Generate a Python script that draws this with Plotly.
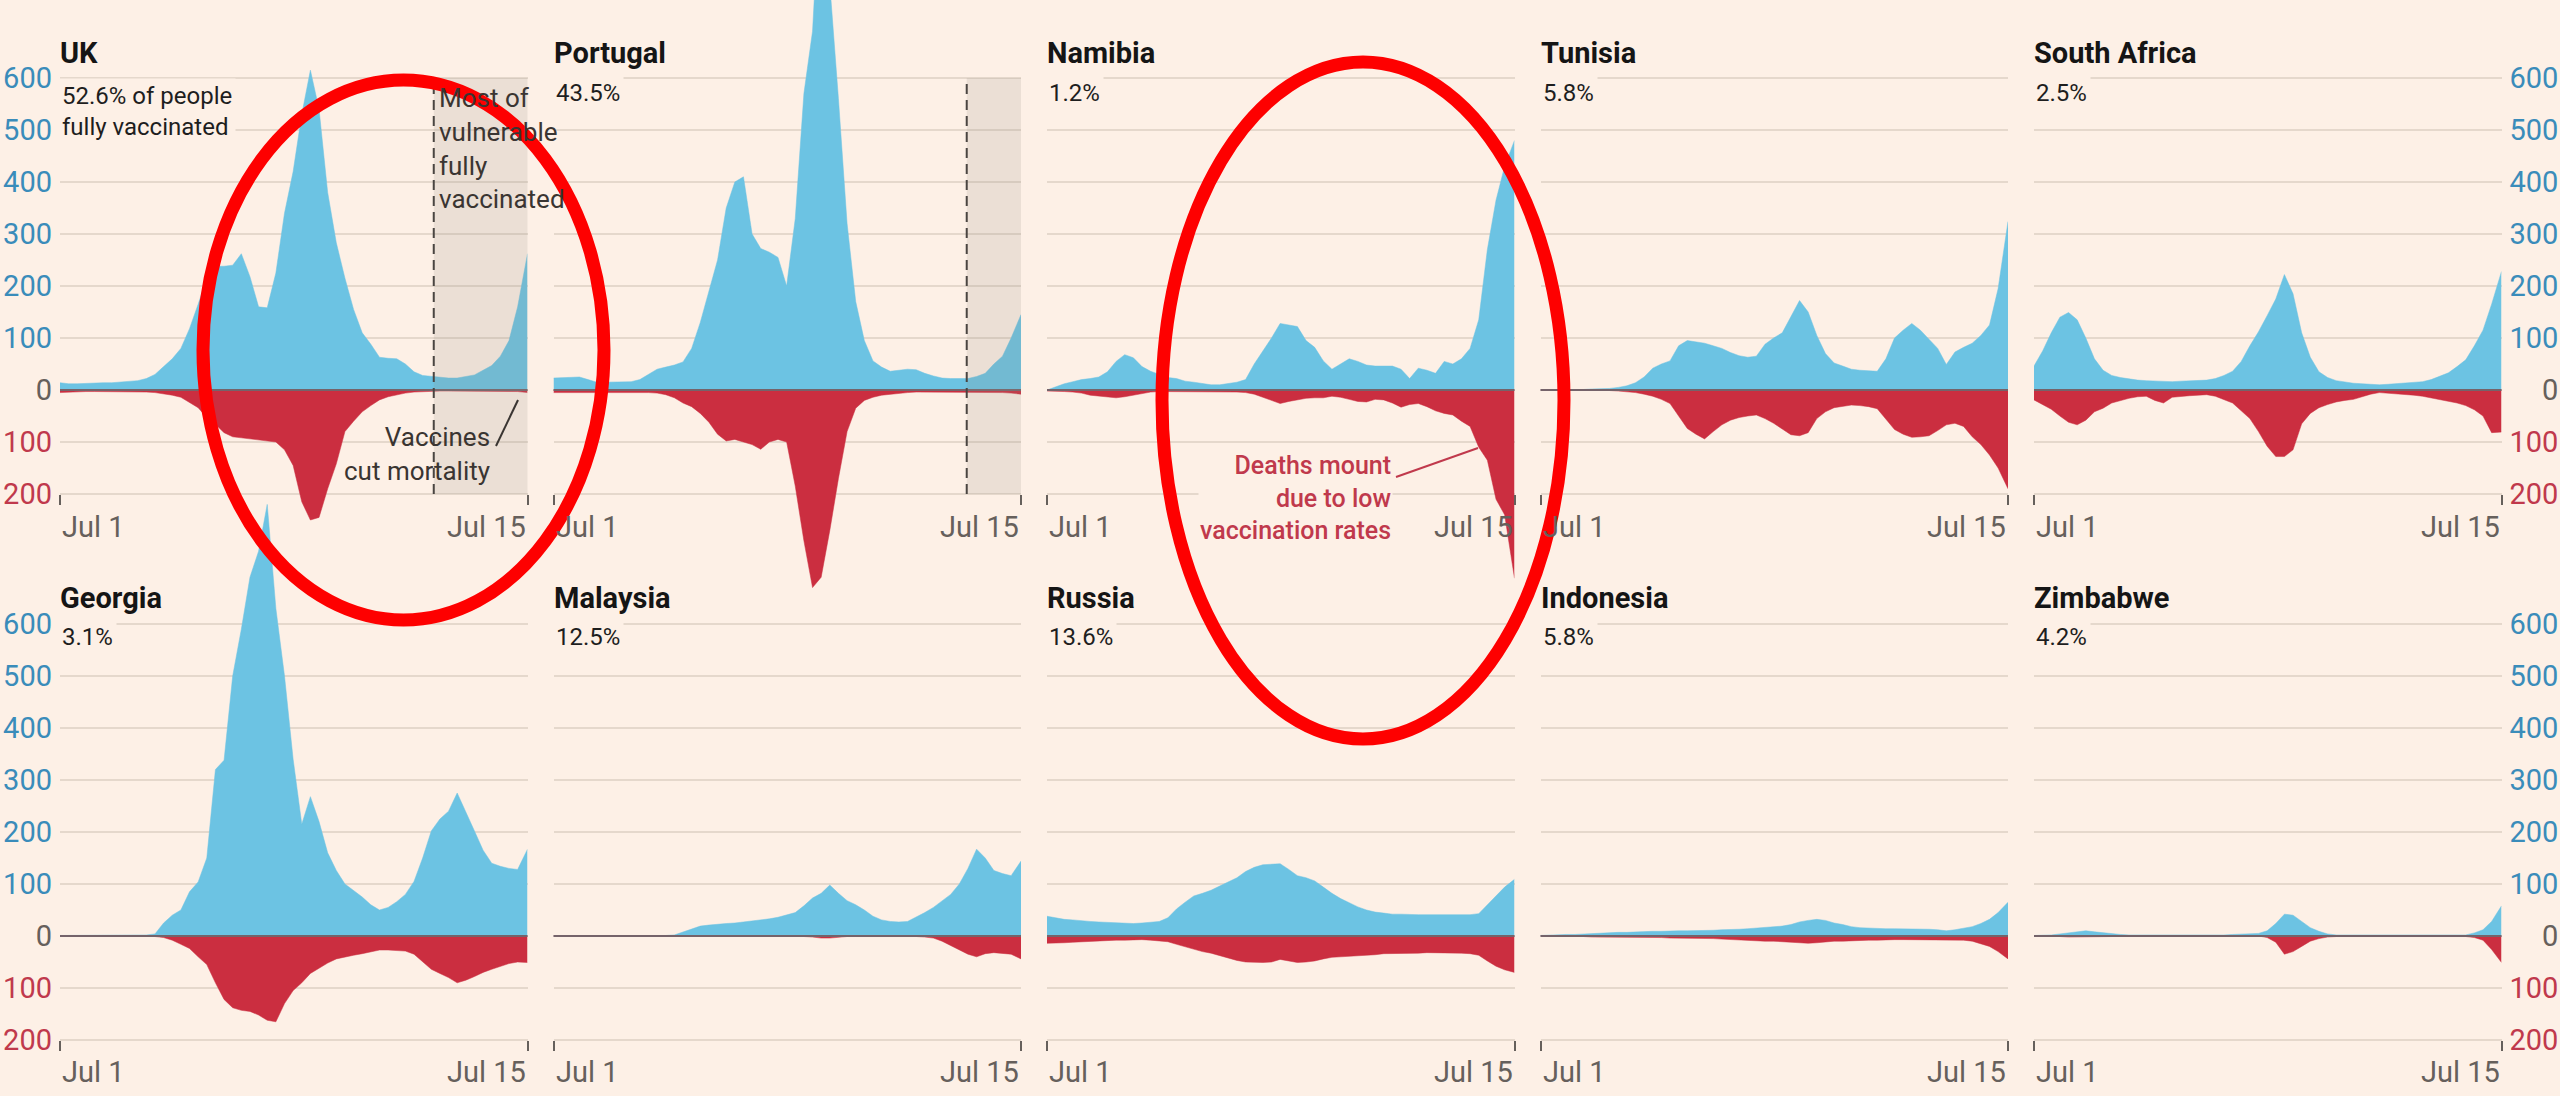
import pandas as pd
import plotly.graph_objects as go

# ---------------- data (weekly readings, Jul 1 2020 -> Jul 15 2021) ----------------
dates = list(pd.date_range("2020-07-01", periods=54, freq="7D")) + [pd.Timestamp("2021-07-15")]

countries = ["UK", "Portugal", "Namibia", "Tunisia", "South Africa",
             "Georgia", "Malaysia", "Russia", "Indonesia", "Zimbabwe"]
vaccinated = ["52.6% of people<br>fully vaccinated", "43.5%", "1.2%", "5.8%", "2.5%",
              "3.1%", "12.5%", "13.6%", "5.8%", "4.2%"]

cases_uk = [14, 12, 12, 13, 13, 14, 14, 15, 16, 18, 22, 30, 45, 60, 80, 118, 165, 215, 238, 238,
            240, 262, 218, 160, 158, 225, 340, 420, 530, 615, 540, 380, 283, 215, 155, 110, 88, 63,
            61, 60, 50, 35, 28, 26, 24, 23, 23, 26, 29, 38, 47, 65, 95, 160, 262]
deaths_uk = [5, 4, 3, 3, 3, 3, 3, 3, 3, 3, 4, 5, 7, 10, 14, 24, 34, 53, 66, 82,
             90, 92, 94, 96, 97, 100, 115, 145, 215, 250, 245, 190, 142, 80, 60, 42, 30, 19,
             13, 9, 6, 4, 3, 2, 2, 2, 2, 2, 2, 2, 2, 2, 3, 3, 5]

cases_pt = [23, 24, 25, 25, 20, 15, 15, 15, 16, 16, 20, 30, 40, 44, 48, 54, 80, 130, 190, 250,
            350, 400, 410, 300, 272, 265, 255, 200, 330, 570, 690, 1000, 780, 560, 320, 170, 95, 56,
            44, 36, 38, 40, 39, 32, 27, 23, 22, 22, 22, 26, 32, 50, 65, 100, 145]
deaths_pt = [5, 5, 5, 5, 5, 4, 4, 4, 4, 4, 5, 5, 6, 9, 15, 25, 32, 45, 62, 85,
             98, 95, 100, 105, 114, 100, 95, 100, 185, 290, 380, 360, 270, 170, 80, 35, 20, 14,
             10, 8, 6, 5, 4, 4, 4, 4, 4, 4, 4, 4, 4, 5, 5, 6, 8]

cases_na = [0, 6, 12, 16, 20, 22, 25, 35, 55, 68, 62, 45, 36, 30, 24, 22, 17, 15, 12, 10,
            10, 12, 15, 20, 50, 75, 100, 128, 125, 122, 95, 82, 56, 40, 50, 60, 55, 48,
            46, 46, 46, 40, 22, 42, 38, 32, 55, 50, 60, 80, 135, 270, 365, 430, 480]
deaths_na = [2, 2, 3, 4, 6, 10, 12, 14, 15, 13, 10, 6, 4, 3, 3, 3, 3, 3, 3, 3,
             3, 3, 4, 5, 8, 14, 20, 26, 22, 19, 16, 15, 15, 12, 14, 18, 22, 23,
             18, 19, 25, 33, 28, 26, 32, 40, 45, 48, 60, 70, 110, 135, 210, 240, 362]

cases_tn = [0, 0, 0, 0, 1, 1, 2, 2, 3, 5, 8, 14, 25, 42, 50, 56, 85, 95, 93, 90,
            85, 80, 72, 66, 63, 65, 88, 100, 110, 140, 172, 150, 105, 70, 52, 46, 40, 38,
            37, 36, 60, 100, 115, 128, 115, 98, 80, 49, 73, 82, 90, 105, 125, 195, 324]
deaths_tn = [0, 0, 0, 0, 0, 0, 0, 0, 1, 2, 3, 5, 8, 12, 18, 26, 50, 74, 85, 94,
             80, 67, 58, 53, 50, 48, 55, 64, 75, 86, 88, 82, 55, 42, 34, 31, 29, 30,
             32, 36, 55, 76, 85, 91, 90, 88, 78, 67, 64, 70, 90, 105, 125, 150, 190]

cases_za = [46, 75, 110, 140, 149, 135, 100, 60, 38, 28, 24, 21, 19, 18, 17, 17, 16, 17, 18, 18,
            19, 22, 28, 36, 55, 85, 112, 143, 175, 222, 185, 110, 63, 35, 24, 18, 15, 13,
            12, 11, 10, 11, 12, 13, 14, 16, 20, 26, 33, 45, 58, 85, 115, 165, 228]
deaths_za = [19, 28, 37, 50, 62, 67, 58, 42, 35, 25, 20, 16, 13, 12, 20, 25, 14, 12, 11, 10,
             9, 12, 18, 25, 40, 55, 80, 108, 128, 128, 115, 65, 45, 34, 28, 23, 20, 18,
             13, 8, 5, 6, 7, 9, 10, 12, 15, 18, 22, 25, 30, 38, 50, 82, 81]

cases_ge = [1, 1, 1, 1, 1, 1, 1, 1, 1, 2, 2, 4, 25, 40, 50, 85, 104, 150, 320, 338,
            500, 590, 690, 740, 830, 630, 500, 340, 215, 268, 220, 160, 126, 100, 88, 75, 60, 50,
            55, 66, 80, 105, 150, 202, 225, 240, 275, 240, 202, 165, 140, 134, 130, 128, 167]
deaths_ge = [0, 0, 0, 0, 0, 0, 0, 0, 0, 0, 0, 1, 3, 8, 16, 24, 40, 55, 90, 122,
             138, 143, 145, 152, 162, 165, 130, 105, 90, 72, 62, 52, 44, 40, 37, 34, 30, 27,
             27, 28, 29, 35, 50, 64, 72, 80, 90, 85, 78, 70, 64, 58, 53, 50, 51]

cases_my = [0, 0, 0, 0, 0, 0, 0, 0, 0, 0, 0, 0, 0, 1, 2, 8, 14, 19, 21, 23,
            24, 25, 27, 28, 30, 33, 36, 40, 45, 58, 73, 82, 98, 82, 68, 60, 50, 38,
            31, 28, 27, 28, 36, 45, 55, 67, 80, 100, 130, 167, 150, 126, 120, 116, 144]
deaths_my = [0, 0, 0, 0, 0, 0, 0, 0, 0, 0, 0, 0, 0, 0, 0, 0, 0, 0, 0, 0,
             0, 0, 0, 0, 0, 0, 0, 0, 0, 1, 2, 4, 4, 2, 1, 1, 1, 0,
             0, 0, 0, 0, 1, 2, 4, 10, 18, 26, 35, 40, 34, 32, 33, 35, 44]

cases_ru = [38, 35, 32, 31, 29, 28, 27, 26, 25, 24, 24, 25, 26, 28, 35, 52, 65, 77, 82, 88,
            96, 104, 112, 124, 132, 137, 138, 139, 128, 116, 112, 106, 94, 82, 72, 64, 56, 50,
            46, 44, 42, 42, 41, 41, 41, 41, 41, 41, 41, 41, 43, 60, 78, 94, 109]
deaths_ru = [14, 14, 13, 12, 11, 10, 9, 9, 8, 8, 7, 7, 8, 9, 11, 16, 21, 26, 30, 33,
             38, 43, 47, 50, 51, 51, 50, 45, 48, 51, 50, 48, 44, 41, 40, 39, 39, 38,
             36, 34, 34, 34, 33, 33, 32, 32, 32, 33, 33, 34, 37, 48, 58, 65, 70]

cases_id = [1, 2, 2, 3, 3, 4, 5, 5, 6, 7, 7, 8, 8, 9, 9, 10, 10, 10, 10, 11,
            11, 12, 12, 13, 14, 15, 16, 17, 19, 22, 27, 30, 32, 30, 25, 22, 18, 16,
            15, 14, 14, 14, 14, 14, 14, 13, 12, 10, 12, 15, 18, 24, 32, 45, 65]
deaths_id = [0, 0, 1, 1, 1, 1, 2, 2, 2, 3, 3, 3, 3, 3, 3, 4, 4, 4, 4, 5,
             5, 6, 7, 7, 8, 9, 10, 10, 11, 13, 14, 14, 13, 11, 10, 10, 9, 9,
             8, 8, 7, 7, 7, 7, 7, 7, 7, 7, 7, 8, 10, 15, 20, 30, 44]

cases_zw = [1, 1, 2, 4, 6, 8, 10, 8, 6, 5, 3, 2, 2, 1, 1, 1, 1, 1, 1, 1,
            1, 1, 2, 3, 4, 5, 5, 10, 24, 42, 40, 28, 16, 9, 4, 2, 2, 1,
            1, 1, 1, 1, 1, 1, 1, 1, 1, 1, 1, 1, 2, 6, 12, 28, 58]
deaths_zw = [0, 0, 1, 1, 2, 2, 2, 2, 1, 1, 0, 0, 0, 0, 0, 0, 0, 0, 0, 0,
             0, 0, 0, 0, 0, 0, 0, 3, 12, 35, 30, 20, 10, 5, 2, 1, 1, 0,
             0, 0, 0, 0, 0, 0, 0, 0, 0, 0, 0, 1, 1, 3, 8, 26, 51]

cases = [cases_uk, cases_pt, cases_na, cases_tn, cases_za,
         cases_ge, cases_my, cases_ru, cases_id, cases_zw]
deaths = [deaths_uk, deaths_pt, deaths_na, deaths_tn, deaths_za,
          deaths_ge, deaths_my, deaths_ru, deaths_id, deaths_zw]

tick_vals = [-200, -100, 0, 100, 200, 300, 400, 500, 600]
tick_nums = ["200", "100", "0", "100", "200", "300", "400", "500", "600"]

# ---------------- styling / geometry ----------------
W, H = 2560, 1096
BG = "#fdf0e6"
BLUE = "#6cc3e3"
RED = "#cb2e40"
BLUE_TXT = "#3a8cba"
RED_TXT = "#c0394c"
GREY_TXT = "#66605c"
GRID = "#e5d8cc"
FONT = "Roboto"

X0 = pd.Timestamp("2020-07-01")
X1 = pd.Timestamp("2021-07-15")

PANEL_L = [60, 553.5, 1047, 1540.5, 2034]
PANEL_W = 467.5
SCALE = 0.52  # px per unit
ROWS = [dict(zero=390, top=0, bot=620, title=53, sub=93, jul=527),
        dict(zero=936, top=440, bot=1096, title=598, sub=637, jul=1072)]


def py(p):
    return 1 - p / H


def px(p):
    return p / W


def ax_id(n):
    return ("x", "y") if n == 1 else (f"x{n}", f"y{n}")


fig = go.Figure()
layout = dict(
    width=W, height=H, paper_bgcolor=BG, plot_bgcolor="rgba(0,0,0,0)",
    margin=dict(l=0, r=0, t=0, b=0), showlegend=False,
    font=dict(family=FONT, color=GREY_TXT),
)
annotations = []
shapes = []

for i, name in enumerate(countries):
    r, c = divmod(i, 5)
    row = ROWS[r]
    n = i + 1
    xa, ya = ax_id(n)
    sfx = "" if n == 1 else str(n)
    L = PANEL_L[c]
    R = L + PANEL_W

    fig.add_trace(go.Scatter(x=dates, y=cases[i], mode="lines", fill="tozeroy",
                             fillcolor=BLUE, line=dict(color=BLUE, width=0.5),
                             xaxis=xa, yaxis=ya, hoverinfo="skip"))
    fig.add_trace(go.Scatter(x=dates, y=[-v for v in deaths[i]], mode="lines", fill="tozeroy",
                             fillcolor=RED, line=dict(color=RED, width=0.5),
                             xaxis=xa, yaxis=ya, hoverinfo="skip"))

    rng = [-(row["bot"] - row["zero"]) / SCALE, (row["zero"] - row["top"]) / SCALE]
    xpos = py(row["zero"] + 200 * SCALE)

    layout[f"xaxis{sfx}"] = dict(
        domain=[px(L), px(R)], range=[X0, X1], anchor="free", position=xpos,
        showgrid=False, zeroline=False, showline=False,
        tickvals=[X0, X1], ticks="outside", ticklen=10, tickwidth=2,
        tickcolor=GREY_TXT, showticklabels=False, fixedrange=True,
    )

    yax = dict(
        domain=[py(row["bot"]), py(row["top"])], range=rng, anchor=xa,
        showgrid=True, gridcolor=GRID, gridwidth=2, zeroline=False, showline=False,
        tickvals=tick_vals, ticks="", fixedrange=True,
        tickfont=dict(family=FONT, size=29, color=GREY_TXT),
    )
    col_txt = [RED_TXT, RED_TXT, GREY_TXT] + [BLUE_TXT] * 6
    if c == 0:
        yax.update(side="left", showticklabels=True, ticklabelstandoff=7,
                   ticktext=[f"<span style='color:{cl}'>{t}</span>"
                             for cl, t in zip(col_txt, tick_nums)])
    elif c == 4:
        yax.update(side="right", showticklabels=True, ticklabelstandoff=7,
                   ticktext=[f"<span style='color:{cl}'>{t.rjust(3, chr(0x2007))}</span>"
                             for cl, t in zip(col_txt, tick_nums)])
    else:
        yax.update(showticklabels=False)
    layout[f"yaxis{sfx}"] = yax

    # zero baseline
    shapes.append(dict(type="line", xref=f"{xa} domain", yref=ya, x0=0, x1=1, y0=0, y1=0,
                       line=dict(color="#75636a", width=2), layer="above"))

    # titles
    annotations.append(dict(text=f"<b>{name}</b>", xref="paper", yref="paper",
                            x=px(L - 2), y=py(row["title"]), xanchor="left", yanchor="middle",
                            showarrow=False, font=dict(family=FONT, size=29, color="#151515")))
    sub_y = row["sub"] + (18 if "<br>" in vaccinated[i] else 0)
    annotations.append(dict(text=vaccinated[i], xref="paper", yref="paper",
                            x=px(L - 2), y=py(sub_y), xanchor="left", yanchor="middle",
                            align="left", showarrow=False, bgcolor=BG, borderpad=3,
                            font=dict(family=FONT, size=24, color="#1e1e1e")))
    # date labels
    annotations.append(dict(text="Jul 1", xref=xa, yref="paper", x=X0, y=py(row["jul"]),
                            xanchor="left", yanchor="middle", showarrow=False,
                            font=dict(family=FONT, size=29, color=GREY_TXT)))
    annotations.append(dict(text="Jul 15", xref=xa, yref="paper", x=X1, y=py(row["jul"]),
                            xanchor="right", yanchor="middle", showarrow=False,
                            font=dict(family=FONT, size=29, color=GREY_TXT)))

# shaded "most of vulnerable fully vaccinated" periods (UK, Portugal)
for xa, ya, start in [("x", "y", "2021-04-30"), ("x2", "y2", "2021-06-01")]:
    shapes.append(dict(type="rect", xref=xa, yref=ya, x0=start, x1="2021-07-16", y0=-200, y1=600,
                       fillcolor="rgba(150,140,130,0.17)", line=dict(width=0), layer="above"))
    shapes.append(dict(type="line", xref=xa, yref=ya, x0=start, x1=start, y0=-200, y1=600,
                       line=dict(color="#4a4541", width=2, dash="10px,6px"), layer="above"))

annotations.append(dict(text="Most of<br>vulnerable<br>fully<br>vaccinated", xref="paper", yref="paper",
                        x=px(437), y=py(148), xanchor="left", yanchor="middle", align="left",
                        showarrow=False, font=dict(family=FONT, size=26, color="#3a3532")))
annotations.append(dict(text="Vaccines<br>cut mortality", xref="paper", yref="paper",
                        x=px(492), y=py(454), xanchor="right", yanchor="middle", align="right",
                        showarrow=False, font=dict(family=FONT, size=26, color="#3a3532")))
shapes.append(dict(type="line", xref="paper", yref="paper", x0=px(496), y0=py(446),
                   x1=px(518), y1=py(400), line=dict(color="#3a3532", width=2), layer="above"))

annotations.append(dict(text="Deaths mount<br>due to low<br>vaccination rates", xref="paper", yref="paper",
                        x=px(1393), y=py(498), xanchor="right", yanchor="middle", align="right",
                        showarrow=False, bgcolor=BG, borderpad=1,
                        font=dict(family=FONT, size=25, color=RED_TXT, weight=500)))
shapes.append(dict(type="line", xref="paper", yref="paper", x0=px(1396), y0=py(477),
                   x1=px(1478), y1=py(448), line=dict(color=RED_TXT, width=2), layer="above"))

# red highlight ellipses
for (x0, y0, x1, y1) in [(203, 80, 604, 620), (1162, 62, 1564, 739)]:
    shapes.append(dict(type="circle", xref="paper", yref="paper",
                       x0=px(x0), x1=px(x1), y0=py(y1), y1=py(y0),
                       line=dict(color="#fe0000", width=13), layer="above"))

layout["annotations"] = annotations
layout["shapes"] = shapes
fig.update_layout(**layout)

fig.write_html("out.html", config={"displayModeBar": False},
               post_script="document.body.style.margin='0';document.body.style.overflow='hidden';")
